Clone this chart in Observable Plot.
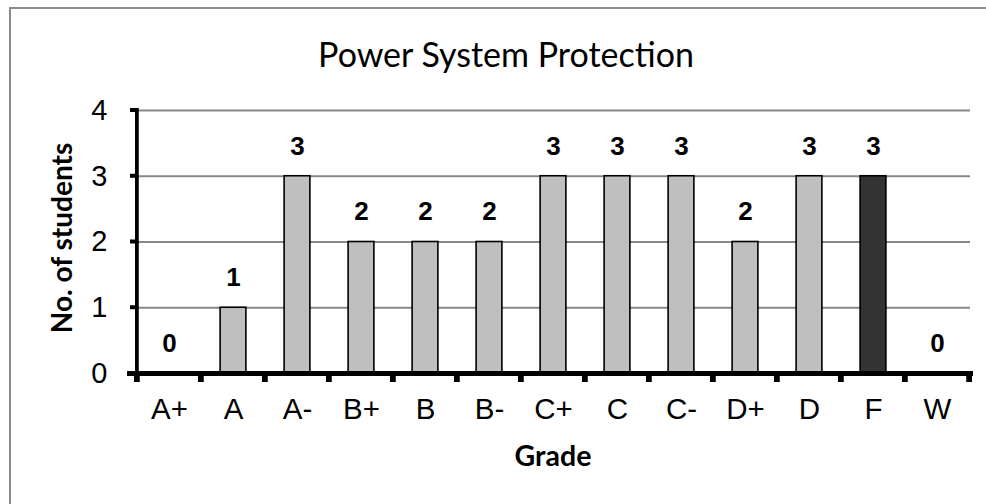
<!DOCTYPE html>
<html>
<head>
<meta charset="utf-8">
<script src="https://cdn.jsdelivr.net/npm/d3@7"></script>
<script src="https://cdn.jsdelivr.net/npm/@observablehq/plot@0.6"></script>
<style>
  html, body { margin: 0; padding: 0; background: #fff; }
  #wrap { position: relative; width: 986px; height: 504px; overflow: hidden; background: #fff; }
  #bt { position: absolute; left: 9px; top: 7px; width: 977px; height: 2px; background: #8c8c8c; }
  #bl { position: absolute; left: 9px; top: 7px; width: 2px; height: 497px; background: #8c8c8c; }
  #wrap svg { position: absolute; left: 0; top: 0; }
</style>
</head>
<body>
<div id="wrap"><div id="bt"></div><div id="bl"></div></div>
<script>
const grades = ["A+","A","A-","B+","B","B-","C+","C","C-","D+","D","F","W"];
const students = [0,1,3,2,2,2,3,3,3,2,3,3,0];
const yTicks = [0,1,2,3,4];
const gridValues = [1,2,3,4];
const highlightGrade = "F";
const title = "Power System Protection";
const xLabel = "Grade";
const yLabel = "No. of students";

const data = grades.map((g, i) => ({grade: g, n: students[i]}));

const W = 986, H = 504, ML = 135, MR = 16, MT = 110, MB = 131;
const bw = (W - ML - MR) / grades.length;
const barInset = (bw - 26) / 2;
const sans = "'Liberation Sans', Arial, sans-serif";
const calib = "Lato, 'Open Sans', sans-serif";

const chart = Plot.plot({
  width: W, height: H,
  marginLeft: ML, marginRight: MR, marginTop: MT, marginBottom: MB,
  style: {background: "transparent", overflow: "visible"},
  x: {domain: grades, padding: 0, axis: null},
  y: {domain: [0, 4], axis: null},
  marks: [
    Plot.ruleY(gridValues, {stroke: "#878787", strokeWidth: 2}),
    Plot.barY(data.filter(d => d.grade !== highlightGrade), {x: "grade", y: "n", fill: "#bfbfbf", stroke: "#000", strokeWidth: 1.6, insetLeft: barInset, insetRight: barInset}),
    Plot.barY(data.filter(d => d.grade === highlightGrade), {x: "grade", y: "n", fill: "#333333", stroke: "#000", strokeWidth: 1.6, insetLeft: barInset, insetRight: barInset}),
    // x axis line
    Plot.ruleY([0], {stroke: "#000", strokeWidth: 5, insetLeft: -8, insetRight: -3}),
    // y axis line
    Plot.barY([grades[0]], {x: d => d, y1: 0, y2: 4, fill: "#000", insetLeft: -2, insetRight: bw - 2, insetTop: -2}),
    // y tick marks
    Plot.barY(yTicks, {x: () => grades[0], y1: d => d, y2: d => d, fill: "#000", insetLeft: -7, insetRight: bw, insetTop: -2, insetBottom: -2}),
    // x tick marks at category boundaries
    Plot.barY(grades, {x: d => d, y1: 0, y2: 0, fill: "#000", insetLeft: -3, insetRight: bw - 3, insetTop: -1, insetBottom: -9}),
    Plot.barY([grades[grades.length - 1]], {x: d => d, y1: 0, y2: 0, fill: "#000", insetLeft: bw - 3, insetRight: -3, insetTop: -1, insetBottom: -9}),
    // y tick labels
    Plot.text(yTicks, {y: d => d, text: d => String(d), frameAnchor: "left", textAnchor: "end", lineAnchor: "middle", dx: -28, fontSize: 29, fontFamily: sans, fill: "#000"}),
    // x tick labels
    Plot.text(grades, {x: d => d, text: d => d, frameAnchor: "bottom", textAnchor: "middle", lineAnchor: "middle", dy: 36, fontSize: 29.5, fontFamily: sans, fill: "#000"}),
    // value labels
    Plot.text(data, {x: "grade", y: "n", text: d => String(d.n), dy: -30, fontSize: 26, fontWeight: "bold", fontFamily: sans, fill: "#000"}),
    Plot.text([title], {frameAnchor: "top", textAnchor: "middle", lineAnchor: "middle", dx: -47, dy: -54, fontSize: 34, fontFamily: calib, fill: "#000"}),
    Plot.text([xLabel], {frameAnchor: "bottom", textAnchor: "middle", lineAnchor: "middle", dy: 83, fontSize: 28.5, fontWeight: "bold", fontFamily: calib, fill: "#000"}),
    Plot.text([yLabel], {frameAnchor: "left", textAnchor: "middle", lineAnchor: "middle", dx: -72, dy: -4, rotate: -90, fontSize: 28, fontWeight: "bold", fontFamily: calib, fill: "#000"})
  ]
});
document.getElementById("wrap").appendChild(chart);
</script>
</body>
</html>
